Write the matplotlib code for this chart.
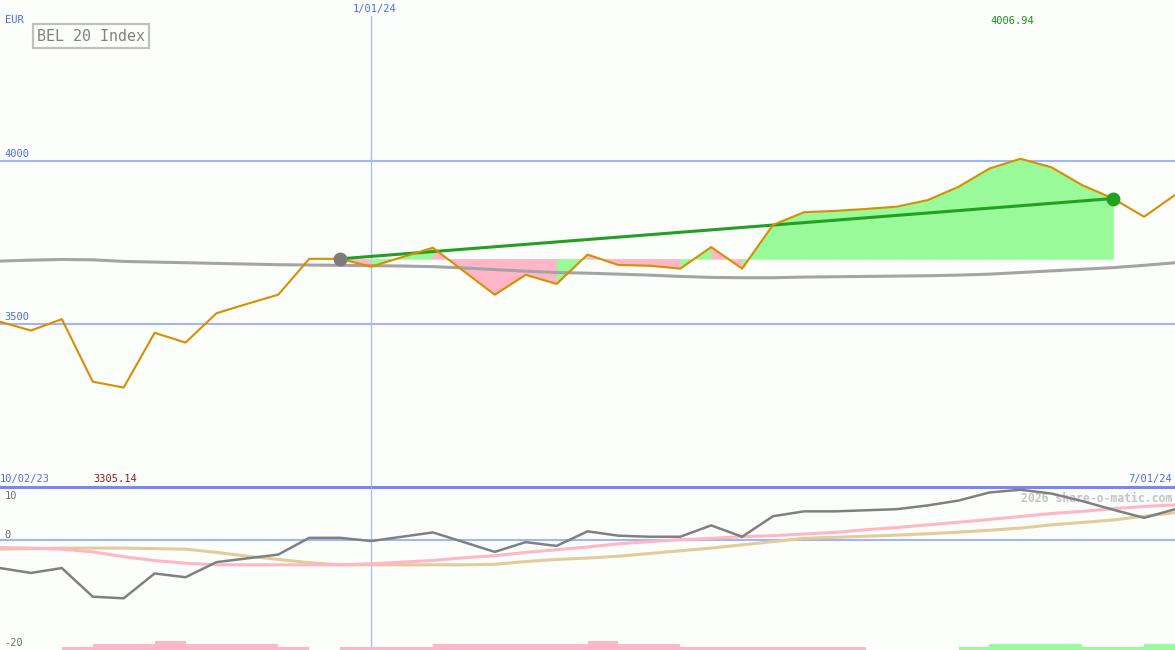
import matplotlib
matplotlib.use('Agg')
import matplotlib.pyplot as plt
import matplotlib.transforms as mtransforms

# Weekly closes of the BEL 20 index (week 0 = 10/02/23)
weeks = list(range(39))
price = [3507, 3480, 3515, 3323, 3305.14, 3473, 3443, 3533, 3562, 3590,
         3700, 3700, 3676, 3705, 3734, 3662, 3590, 3651, 3623, 3713,
         3681, 3679, 3670, 3736, 3670, 3804, 3843, 3847, 3853, 3860,
         3880, 3921, 3977, 4006.94, 3981, 3926, 3885, 3829, 3896]
# long moving average (grey)
ma_long = [3693, 3696, 3698, 3697, 3692, 3690, 3688, 3686, 3684, 3682,
           3681, 3680, 3679, 3678, 3676, 3672, 3667, 3662, 3658, 3656,
           3653, 3650, 3646, 3643, 3642, 3642, 3644, 3645, 3646, 3647,
           3648, 3650, 3653, 3658, 3663, 3668, 3673, 3680, 3688]

# oscillator panel
momentum = [-5.2, -6.1, -5.2, -10.5, -10.8, -6.2, -6.9, -4.1, -3.4, -2.7,
            0.4, 0.4, -0.2, 0.6, 1.4, -0.4, -2.2, -0.4, -1.1, 1.6,
            0.8, 0.6, 0.6, 2.7, 0.6, 4.4, 5.3, 5.3, 5.5, 5.7,
            6.4, 7.3, 8.8, 9.3, 8.6, 7.2, 5.6, 4.1, 5.7]
osc_pink = [-1.4, -1.5, -1.7, -2.2, -3.1, -3.8, -4.3, -4.6, -4.6, -4.6,
            -4.6, -4.6, -4.4, -4.1, -3.8, -3.3, -2.9, -2.3, -1.8, -1.3,
            -0.7, -0.3, 0.05, 0.3, 0.6, 0.8, 1.1, 1.4, 1.9, 2.3,
            2.8, 3.3, 3.8, 4.35, 4.9, 5.3, 5.8, 6.2, 6.5]
osc_tan = [-1.7, -1.6, -1.5, -1.5, -1.5, -1.6, -1.7, -2.3, -3.0, -3.6,
           -4.2, -4.6, -4.6, -4.6, -4.6, -4.6, -4.5, -4.0, -3.6, -3.35,
           -3.0, -2.5, -2.0, -1.5, -0.9, -0.3, 0.3, 0.5, 0.7, 0.9,
           1.15, 1.45, 1.8, 2.2, 2.8, 3.25, 3.7, 4.4, 5.05]
# weekly signal bars (negative = pink, positive = green)
signal_bars = [0, 0, -1, -2, -2, -3, -2, -2, -2, -1,
               0, -1, -1, -1, -2, -2, -2, -2, -2, -3,
               -2, -2, -1, -1, -1, -1, -1, -1, 0, 0,
               0, 1, 2, 2, 2, 1, 1, 2]

# trend from week 11 to week 36, fill colour per week (+1 green, -1 pink)
trend_start, trend_end = 11, 36
trend_fill = [-1, 1, 1, -1, -1, -1, -1, 1, -1, -1, -1, 1, -1,
              1, 1, 1, 1, 1, 1, 1, 1, 1, 1, 1, 1]

title = 'BEL 20 Index'
currency = 'EUR'
start_label, end_label = '10/02/23', '7/01/24'
mid_week, mid_label = 12, '1/01/24'
price_ticks = [3500, 4000]
osc_ticks = [10, 0, -20]

bg = '#fcfefc'
blue_txt = '#5068f8'
grid_blue = '#a4b4f4'
green = '#22a022'
pale_green = '#98fa98'
pink = '#ffb6c6'
mono = 'DejaVu Sans Mono'

fig = plt.figure(figsize=(11.75, 6.5), dpi=100, facecolor=bg)
ax = fig.add_axes([0, 163 / 650, 1, 487 / 650])
ax2 = fig.add_axes([0, 0, 1, 163 / 650])
for a in (ax, ax2):
    a.set_xlim(weeks[0], weeks[-1])
    a.axis('off')
ax.set_ylim(3000, 4494)
ax2.set_ylim(-20.37, 9.81)

# ---- price panel ----
for t in price_ticks:
    ax.axhline(t, color=grid_blue, lw=1.5, zorder=1)
ax.axvline(mid_week, ymax=0.967, color='#a8b8ff', lw=0.9, zorder=1)
ax.axhline(3000, color='#7888ec', lw=2.2, clip_on=False, zorder=6)

base = price[trend_start]
for k, sgn in enumerate(trend_fill):
    i = trend_start + k
    c = pale_green if sgn > 0 else pink
    ax.fill_between(weeks[i:i + 2], base, price[i:i + 2],
                    fc=c, ec=c, lw=0.4, zorder=2)

ax.plot(weeks, ma_long, color='#a4a4a4', lw=2.2, zorder=3)
ax.plot([trend_start, trend_end], [price[trend_start], price[trend_end]],
        color=green, lw=2.2, zorder=4)
ax.plot(weeks, price, color='#d98e00', lw=1.5, zorder=5)
ax.plot(trend_start, price[trend_start], 'o', color='#7c7c7c', ms=9, zorder=6)
ax.plot(trend_end, price[trend_end], 'o', color=green, ms=9, zorder=6)

# labels
ylab = mtransforms.blended_transform_factory(ax.transAxes, ax.transData)
for t in price_ticks:
    ax.text(0.004, t + 6, str(t), transform=ylab, color=blue_txt,
            fontsize=7.5, family=mono, va='bottom')
ax.text(0.004, 0.958, currency, transform=ax.transAxes, color=blue_txt,
        fontsize=7.5, family=mono, va='center')
ax.text(0.0315, 0.926, title, transform=ax.transAxes, color='#808080',
        fontsize=10.8, family=mono, va='center',
        bbox=dict(boxstyle='square,pad=0.28', fc=bg, ec='#c0c0c0', lw=1.6))

xlab = mtransforms.blended_transform_factory(ax.transData, ax.transAxes)
ax.text(mid_week + 0.1, 0.982, mid_label, transform=xlab, color=blue_txt,
        fontsize=7.5, family=mono, ha='center', va='center')
ax.text(0, 0.017, start_label, transform=ax.transAxes, color=blue_txt,
        fontsize=7.5, family=mono, va='center')
ax.text(0.9975, 0.017, end_label, transform=ax.transAxes, color=blue_txt,
        fontsize=7.5, family=mono, ha='right', va='center')

hi = max(price)
lo = min(price)
ax.annotate(f'{hi:.2f}', (price.index(hi), 1), xycoords=xlab,
            xytext=(-8, -21), textcoords='offset pixels', color='#189018',
            fontsize=7.5, family=mono, ha='center', va='center')
ax.annotate(f'{lo:.2f}', (price.index(lo), 0), xycoords=xlab,
            xytext=(-8, 8), textcoords='offset pixels', color='#a01818',
            fontsize=7.5, family=mono, ha='center', va='center')

# ---- oscillator panel ----
ax2.axhline(0, color=grid_blue, lw=1.5, zorder=1)
ax2.axvline(mid_week, color='#a8b8ff', lw=0.9, zorder=1)
ax2.plot(weeks, osc_tan, color='#e2cc9a', lw=2.2, zorder=2)
ax2.plot(weeks, osc_pink, color=pink, lw=2.2, zorder=3)
ax2.plot(weeks, momentum, color='#808080', lw=1.8, zorder=4)

ax3 = ax2.twinx()
ax3.set_ylim(0, 54.3)
ax3.axis('off')
ax3.bar([w + 0.5 for w in weeks[:-1]], [abs(v) for v in signal_bars], width=1,
        color=[pale_green if v > 0 else pink for v in signal_bars], lw=0)

ylab2 = mtransforms.blended_transform_factory(ax2.transAxes, ax2.transData)
for t in osc_ticks:
    top = t > ax2.get_ylim()[1] - 1
    ax2.text(0.004, t - 0.9 if top else t + 0.05, str(t), transform=ylab2,
             color='#707070', fontsize=7.5, family=mono,
             va='top' if top else 'bottom', clip_on=False)
ax2.text(0.9975, 0.93, '2026 share-o-matic.com', transform=ax2.transAxes,
         color='#c4c4c4', fontsize=8.3, family=mono, weight='bold',
         ha='right', va='center')

fig.savefig('out.png', dpi=100, facecolor=bg)
